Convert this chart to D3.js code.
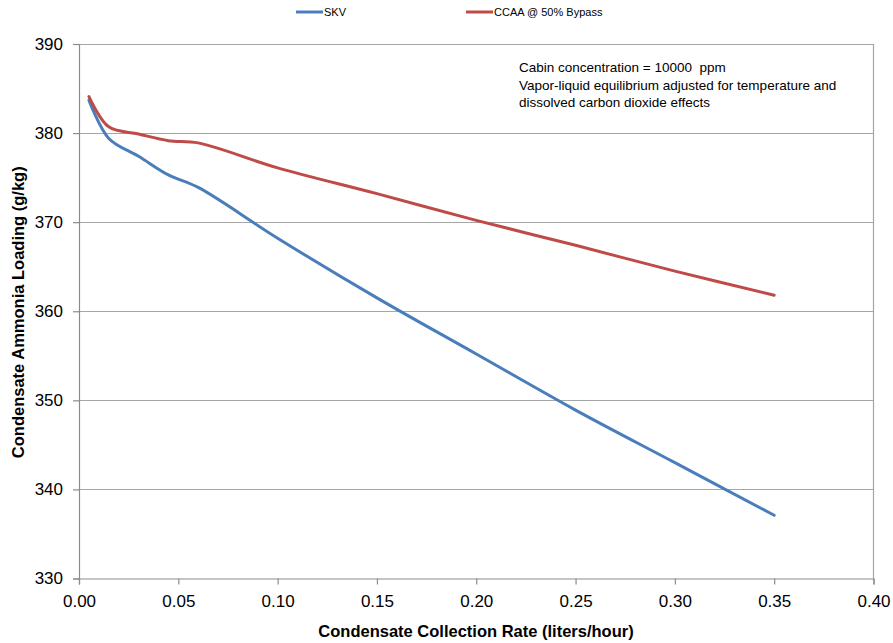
<!DOCTYPE html>
<html><head><meta charset="utf-8">
<script src="https://cdn.jsdelivr.net/npm/d3@7"></script>
<style>body{margin:0;background:#fff;} text{font-family:"Liberation Sans",Arial,sans-serif;}</style>
</head><body><svg id="c" width="893" height="643"></svg>
<script>
const xValues = [0.005, 0.015, 0.03, 0.045, 0.06, 0.1, 0.15, 0.2, 0.25, 0.3, 0.35];
const skv = [383.7, 379.4, 377.4, 375.3, 373.9, 368.2, 361.5, 355.2, 348.9, 343.0, 337.1];
const ccaa = [384.1, 380.7, 379.9, 379.15, 378.9, 376.1, 373.2, 370.2, 367.4, 364.5, 361.8];
const seriesNames = ["SKV", "CCAA @ 50% Bypass"];
const seriesColors = ["#4a7ebb", "#be4b48"];
const xTicks = [0, 0.05, 0.1, 0.15, 0.2, 0.25, 0.3, 0.35, 0.4];
const yTicks = [330, 340, 350, 360, 370, 380, 390];
const notes = ["Cabin concentration = 10000  ppm", "Vapor-liquid equilibrium adjusted for temperature and", "dissolved carbon dioxide effects"];

const svg = d3.select("#c");
const L = 79, R = 873.5, T = 44, B = 578.5;
const x = d3.scaleLinear().domain([0, 0.4]).range([L, R]);
const y = d3.scaleLinear().domain([330, 390]).range([B, T]);
const grid = "#a6a6a6";

// gridlines
svg.append("g").selectAll("line").data(yTicks.slice(1)).join("line")
  .attr("x1", L).attr("x2", R).attr("y1", d => Math.round(y(d)) + 0.5).attr("y2", d => Math.round(y(d)) + 0.5)
  .attr("stroke", grid).attr("stroke-width", 1.2);
// right border
svg.append("line").attr("x1", R).attr("x2", R).attr("y1", T).attr("y2", B).attr("stroke", grid).attr("stroke-width", 1.2);

// axes
const yAxis = svg.append("g").attr("transform", `translate(${L},0)`)
  .call(d3.axisLeft(y).tickValues(yTicks).tickSize(6).tickPadding(10).tickFormat(d3.format("d")));
const xAxis = svg.append("g").attr("transform", `translate(0,${B})`)
  .call(d3.axisBottom(x).tickValues(xTicks).tickSize(6).tickPadding(10).tickFormat(d3.format(".2f")));
[xAxis, yAxis].forEach(a => {
  a.select(".domain").attr("stroke", "#8c8c8c").attr("stroke-width", 1.2);
  a.selectAll(".tick line").attr("stroke", "#8c8c8c").attr("stroke-width", 1.2);
  a.selectAll("text").attr("fill", "#000").style("font-size", "17px").style("font-family", '"Liberation Sans", Arial, sans-serif');
});

// lines
const line = d3.line().x(d => x(d[0])).y(d => y(d[1])).curve(d3.curveCatmullRom.alpha(0.5));
[skv, ccaa].forEach((vals, i) => {
  svg.append("path").datum(xValues.map((xv, j) => [xv, vals[j]]))
    .attr("d", line).attr("fill", "none").attr("stroke", seriesColors[i]).attr("stroke-width", 3)
    .attr("stroke-linecap", "round");
});

// legend
const legX = [296, 466];
seriesNames.forEach((n, i) => {
  svg.append("line").attr("x1", legX[i]).attr("x2", legX[i] + 27).attr("y1", 12).attr("y2", 12)
    .attr("stroke", seriesColors[i]).attr("stroke-width", 3);
  svg.append("text").attr("x", legX[i] + 28).attr("y", 16).style("font-size", "11px").text(n);
});

// annotation
notes.forEach((t, i) => {
  svg.append("text").attr("x", 519).attr("y", 72 + i * 17.5).style("font-size", "13.5px")
    .style("white-space", "pre").text(t);
});

// axis titles
svg.append("text").attr("x", 476).attr("y", 637).attr("text-anchor", "middle")
  .style("font-size", "16.5px").style("font-weight", "bold").text("Condensate Collection Rate (liters/hour)");
svg.append("text").attr("transform", `translate(24,${(T + B) / 2 + 1}) rotate(-90)`).attr("text-anchor", "middle")
  .style("font-size", "16.5px").style("font-weight", "bold").text("Condensate Ammonia Loading (g/kg)");
</script></body></html>
